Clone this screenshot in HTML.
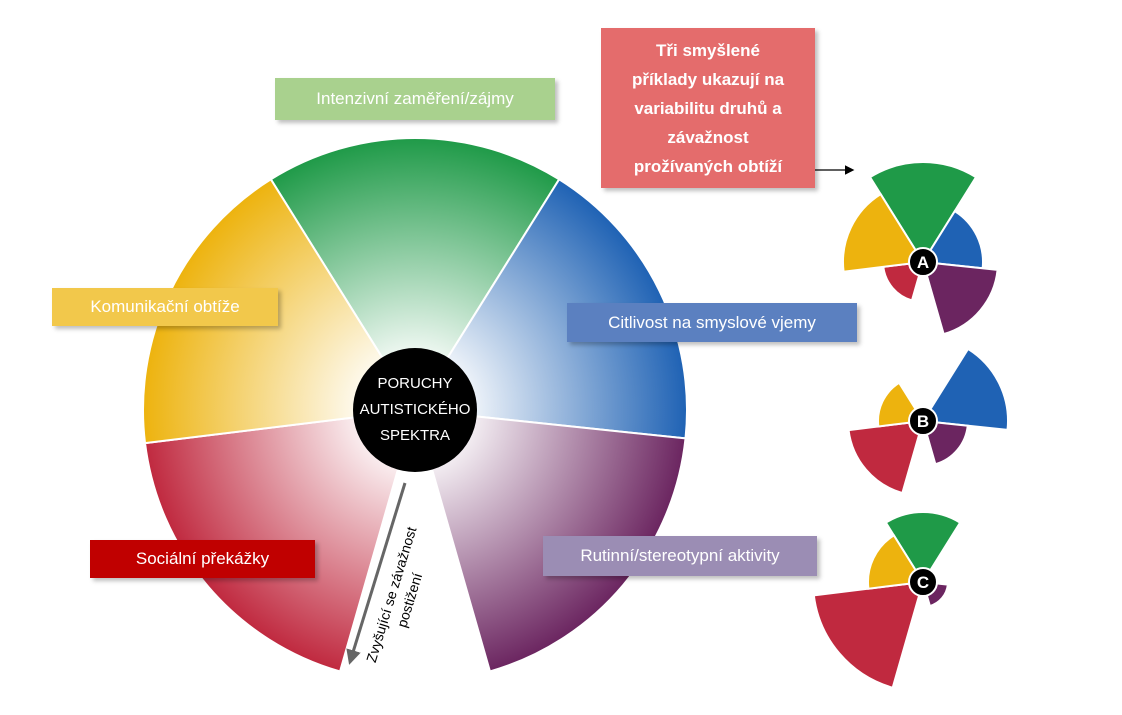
<!DOCTYPE html>
<html><head><meta charset="utf-8"><style>
body{margin:0;width:1122px;height:715px;background:#fff;overflow:hidden;position:relative;font-family:"Liberation Sans",sans-serif}
.l{position:absolute;color:#fff;font-size:17px;display:flex;align-items:center;justify-content:center;box-shadow:3px 3px 4px rgba(0,0,0,.25)}
</style></head><body>
<svg width="1122" height="715" style="position:absolute;left:0;top:0">
<defs>
<radialGradient id="gG" cx="415" cy="410" r="272" gradientUnits="userSpaceOnUse"><stop offset="0.15" stop-color="#fff"/><stop offset="1" stop-color="#1f9a48"/></radialGradient>
<radialGradient id="gB" cx="415" cy="410" r="272" gradientUnits="userSpaceOnUse"><stop offset="0.15" stop-color="#fff"/><stop offset="1" stop-color="#1f62b4"/></radialGradient>
<radialGradient id="gP" cx="415" cy="410" r="272" gradientUnits="userSpaceOnUse"><stop offset="0.15" stop-color="#fff"/><stop offset="1" stop-color="#6b2560"/></radialGradient>
<radialGradient id="gR" cx="415" cy="410" r="272" gradientUnits="userSpaceOnUse"><stop offset="0.15" stop-color="#fff"/><stop offset="1" stop-color="#c0293f"/></radialGradient>
<radialGradient id="gY" cx="415" cy="410" r="272" gradientUnits="userSpaceOnUse"><stop offset="0.15" stop-color="#fff"/><stop offset="1" stop-color="#edb30e"/></radialGradient>
<marker id="ah" markerWidth="5" markerHeight="5" refX="4" refY="2.5" orient="auto"><path d="M0,0L5,2.5L0,5z" fill="#666"/></marker>
<marker id="ak" markerWidth="8" markerHeight="8" refX="6" refY="4" orient="auto"><path d="M0,0L8,4L0,8z" fill="#000"/></marker>
</defs>
<g id="main" stroke="#fff" stroke-width="2"></g>
<g id="small"></g>
<circle cx="415" cy="410" r="62" fill="#000"/>
<text x="415" y="388" fill="#fff" font-size="15" text-anchor="middle">PORUCHY</text>
<text x="415" y="414" fill="#fff" font-size="15" text-anchor="middle">AUTISTICKÉHO</text>
<text x="415" y="440" fill="#fff" font-size="15" text-anchor="middle">SPEKTRA</text>
<line x1="405" y1="483" x2="350" y2="662" stroke="#666" stroke-width="3" marker-end="url(#ah)"/>
<g transform="translate(396,596) rotate(-73)">
<text x="0" y="0" font-size="14" fill="#000" text-anchor="middle">Zvyšující se závažnost</text>
<text x="0" y="19" font-size="14" fill="#000" text-anchor="middle">postižení</text>
</g>
<line x1="815" y1="170" x2="852" y2="170" stroke="#000" stroke-width="1.2" marker-end="url(#ak)"/>
</svg>
<div class="l" style="left:275px;top:78px;width:280px;height:42px;background:#a9d18e">Intenzivní zaměření/zájmy</div>
<div class="l" style="left:52px;top:288px;width:226px;height:38px;background:#f2c84b">Komunikační obtíže</div>
<div class="l" style="left:567px;top:303px;width:290px;height:39px;background:#5b80c0">Citlivost na smyslové vjemy</div>
<div class="l" style="left:543px;top:536px;width:274px;height:40px;background:#9b8db4">Rutinní/stereotypní aktivity</div>
<div class="l" style="left:90px;top:540px;width:225px;height:38px;background:#c00000">Sociální překážky</div>
<div class="l" style="left:601px;top:28px;width:214px;height:160px;background:#e46c6c;font-weight:bold;font-size:17px;line-height:29px;text-align:center">Tři smyšlené<br>příklady ukazují na<br>variabilitu druhů a<br>závažnost<br>prožívaných obtíží</div>
<script>
function arc(cx,cy,r,a1,a2){const R=Math.PI/180;const p=(a,rr)=>[cx+rr*Math.sin(a*R),cy-rr*Math.cos(a*R)];const [x1,y1]=p(a1,r),[x2,y2]=p(a2,r);const lg=(a2-a1)>180?1:0;return `M${cx},${cy}L${x1},${y1}A${r},${r} 0 ${lg} 1 ${x2},${y2}Z`}
const ns="http://www.w3.org/2000/svg";
function add(g,d,f,s){const e=document.createElementNS(ns,"path");e.setAttribute("d",d);e.setAttribute("fill",f);if(s){e.setAttribute("stroke","#fff");e.setAttribute("stroke-width","2")}document.getElementById(g).appendChild(e)}
const segs=[[-32,32,"G","#1f9a48"],[32,96,"B","#1f62b4"],[96,164,"P","#6b2560"],[196,263,"R","#c0293f"],[263,328,"Y","#edb30e"]];
segs.forEach(s=>add("main",arc(415,410,272,s[0],s[1]),`url(#g${s[2]})`,1));
const sm=[[923,262,"A",[100,60,75,40,80]],[923,421,"B",[0,85,45,75,45]],[923,582,"C",[70,0,25,110,55]]];
sm.forEach(c=>{segs.forEach((s,i)=>{if(c[3][i])add("small",arc(c[0],c[1],c[3][i],s[0],s[1]),s[3],1)});
const ci=document.createElementNS(ns,"circle");ci.setAttribute("cx",c[0]);ci.setAttribute("cy",c[1]);ci.setAttribute("r",14);ci.setAttribute("fill","#000");ci.setAttribute("stroke","#fff");ci.setAttribute("stroke-width","2");document.getElementById("small").appendChild(ci);
const t=document.createElementNS(ns,"text");t.setAttribute("x",c[0]);t.setAttribute("y",c[1]+6);t.setAttribute("fill","#fff");t.setAttribute("font-size","17");t.setAttribute("font-weight","bold");t.setAttribute("text-anchor","middle");t.textContent=c[2];document.getElementById("small").appendChild(t)});
</script>
</body></html>
